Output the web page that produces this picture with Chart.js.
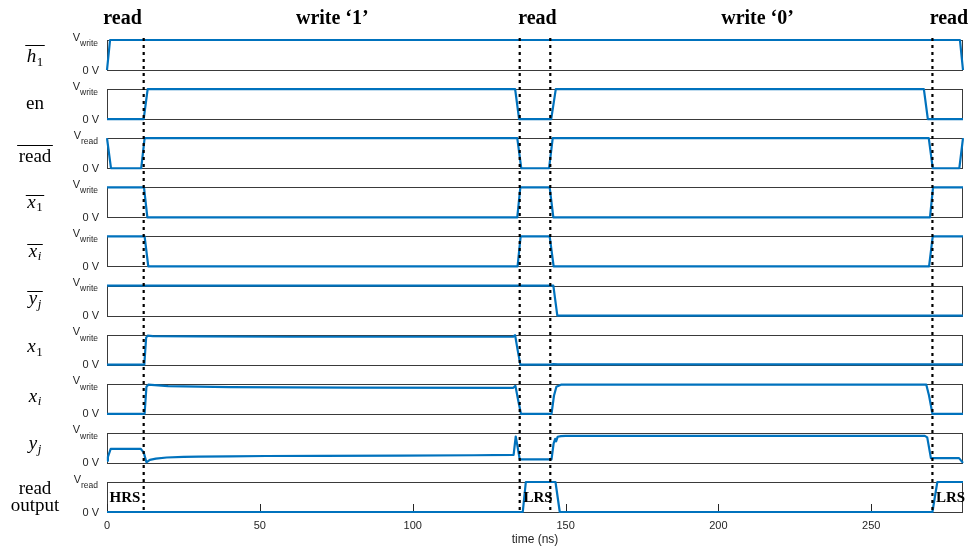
<!DOCTYPE html>
<html><head><meta charset="utf-8">
<script src="https://cdn.jsdelivr.net/npm/chart.js@4/dist/chart.umd.min.js"></script>
<style>html,body{margin:0;padding:0;background:#fff;}#wrap{position:relative;width:974px;height:553px;}</style>
</head><body><div id="wrap"><canvas id="c" width="974" height="553"></canvas></div>
<script>
// ---------- data (time in ns, level as fraction of the panel's top voltage) ----------
const T_MAX = 280;
const xTicks = [0, 50, 100, 150, 200, 250];
const phaseNames = ['read', 'write ‘1’', 'read', 'write ‘0’', 'read'];
const phaseCenters = [5.1, 73.7, 140.8, 212.8, 275.4];
const phaseBounds = [12, 135, 145, 270];
const stateText = ['HRS', 'LRS', 'LRS'];
const stateAt = [5.9, 141, 275.9];
const vTopNames = ['write', 'write', 'read', 'write', 'write', 'write', 'write', 'write', 'write', 'read'];

const tH1 = [0, 1, 279, 280];
const vH1 = [0, 1, 1, 0];
const tEn = [0, 12, 13.3, 133.5, 134.8, 145.3, 146.8, 267.2, 268.5, 280];
const vEn = [0, 0, 1, 1, 0, 0, 1, 1, 0, 0];
const tReadB = [0, 1.3, 11.2, 12.3, 134.2, 135.5, 144.6, 145.8, 268.8, 270.1, 278.8, 280];
const vReadB = [1, 0, 0, 1, 1, 0, 0, 1, 1, 0, 0, 1];
const tX1B = [0, 12.1, 13.2, 134.2, 135.2, 144.8, 146, 269.2, 270.2, 280];
const vX1B = [1, 1, 0, 0, 1, 1, 0, 0, 1, 1];
const tXiB = [0, 12.3, 13.5, 134.3, 135.3, 144.8, 146.1, 268.9, 270.1, 280];
const vXiB = [1, 1, 0, 0, 1, 1, 0, 0, 1, 1];
const tYjB = [0, 146, 147.3, 280];
const vYjB = [1, 1, 0, 0];
const tX1 = [0, 12.2, 12.8, 13.3, 15, 30, 60, 100, 132.8, 133.5, 134.3, 135.2, 145, 146, 147.5, 280];
const vX1 = [0, 0, 0.9, 0.97, 0.95, 0.94, 0.93, 0.93, 0.93, 0.98, 0.5, 0, 0, 0.02, 0.01, 0.01];
const tXi = [0, 12.3, 12.9, 13.5, 20, 40, 80, 132.8, 133.6, 134.4, 135.4, 145.4, 146.2, 147, 148.5, 268, 268.9, 270, 280];
const vXi = [0, 0, 0.9, 0.97, 0.92, 0.89, 0.87, 0.86, 0.93, 0.5, 0, 0, 0.6, 0.9, 0.97, 0.97, 0.6, 0, 0];
const tYj = [0, 0.3, 1.2, 11, 12, 12.9, 14, 16, 19.5, 25, 30, 40, 52, 70, 96, 120, 133, 133.7, 134.2, 135, 145.4, 146.1, 146.6, 146.9, 147.4, 148.5, 150, 267.5, 268.3, 269.5, 278.7, 280];
const vYj = [0.07, 0.2, 0.47, 0.47, 0.35, 0.02, 0.1, 0.14, 0.18, 0.2, 0.21, 0.22, 0.23, 0.235, 0.24, 0.255, 0.27, 0.88, 0.6, 0.12, 0.12, 0.65, 0.8, 0.72, 0.87, 0.89, 0.9, 0.9, 0.85, 0.16, 0.16, 0];
const tOut = [0, 136, 137, 146.7, 148.1, 270, 271.6, 280];
const vOut = [0, 0, 1, 1, 0, 0, 1, 1];

const panelLabels = [
  { over: true,  seg: [['h', 'it'], ['1', 'sub']] },
  { over: false, seg: [['en', 'rm']] },
  { over: true,  seg: [['read', 'rm']] },
  { over: true,  seg: [['x', 'it'], ['1', 'sub']] },
  { over: true,  seg: [['x', 'it'], ['i', 'subit']] },
  { over: true,  seg: [['y', 'it'], ['j', 'subit']] },
  { over: false, seg: [['x', 'it'], ['1', 'sub']] },
  { over: false, seg: [['x', 'it'], ['i', 'subit']] },
  { over: false, seg: [['y', 'it'], ['j', 'subit']] },
  { lines: ['read', 'output'] }
];

const signals = [
  [tH1, vH1], [tEn, vEn], [tReadB, vReadB], [tX1B, vX1B], [tXiB, vXiB],
  [tYjB, vYjB], [tX1, vX1], [tXi, vXi], [tYj, vYj], [tOut, vOut]
];

// ---------- styling ----------
const BLUE = '#0072BD';
const INK = '#262626';
const N = signals.length;
const PANEL_W = 30, GAP_W = 19.1;

function killPad(s) { s.paddingLeft = 0; s.paddingRight = 0; s.paddingTop = 0; s.paddingBottom = 0; }

const scales = {
  x: {
    type: 'linear', position: 'bottom', min: 0, max: T_MAX,
    afterBuildTicks: s => { s.ticks = xTicks.map(v => ({ value: v })); },
    ticks: { autoSkip: false, maxRotation: 0, padding: 7, color: INK, font: { family: 'Liberation Sans', size: 11 } },
    grid: { display: false, drawTicks: false }, border: { display: false },
    title: { display: true, text: 'time (ns)', color: INK, font: { family: 'Liberation Sans', size: 12 }, padding: { top: 0, bottom: 6 } },
    afterFit: s => { s.height = 41; killPad(s); }
  },
  xTop: {
    type: 'linear', position: 'top', min: 0, max: T_MAX,
    afterBuildTicks: s => { s.ticks = phaseCenters.map(v => ({ value: v })); },
    ticks: { autoSkip: false, maxRotation: 0, padding: 9, color: '#000',
      font: { family: 'Liberation Serif', size: 20, weight: 'bold' },
      callback: (v, i) => phaseNames[i] },
    grid: { display: false, drawTicks: false }, border: { display: false },
    afterFit: s => { s.height = 40; killPad(s); }
  }
};
const order = [];
for (let i = 0; i < N; i++) {
  order.push({ id: 'p' + i, w: PANEL_W });
  if (i < N - 1) order.push({ id: 'g' + i, w: GAP_W });
}
order.forEach((o, k) => {
  scales[o.id] = {
    type: 'linear', position: 'left', stack: 'panels', stackWeight: o.w,
    weight: order.length - k, min: 0, max: 1, display: true,
    ticks: { display: false }, grid: { display: false, drawTicks: false }, border: { display: false },
    afterFit: s => { s.width = 107; killPad(s); }
  };
});

const datasets = signals.map((sig, i) => ({
  data: sig[0].map((t, k) => ({ x: t, y: sig[1][k] })),
  yAxisID: 'p' + i, xAxisID: 'x',
  borderColor: BLUE, borderWidth: 2.2, pointRadius: 0, tension: 0, fill: false,
  borderJoinStyle: 'round', clip: false
}));

function fontFor(kind) {
  switch (kind) {
    case 'it': return 'italic 19px "Liberation Serif"';
    case 'sub': return '13px "Liberation Serif"';
    case 'subit': return 'italic 13px "Liberation Serif"';
    default: return '19px "Liberation Serif"';
  }
}
function drawLabel(ctx, spec, cx, cy) {
  ctx.fillStyle = '#000'; ctx.strokeStyle = '#000';
  ctx.textAlign = 'left'; ctx.textBaseline = 'alphabetic';
  if (spec.lines) {
    ctx.font = fontFor('rm');
    const lh = 17.5;
    const m0 = ctx.measureText(spec.lines[0]);
    const m1 = ctx.measureText(spec.lines[spec.lines.length - 1]);
    const top = -m0.actualBoundingBoxAscent;
    const bottom = lh * (spec.lines.length - 1) + m1.actualBoundingBoxDescent;
    const base = cy - (top + bottom) / 2 + 1;
    ctx.textAlign = 'center';
    spec.lines.forEach((l, k) => ctx.fillText(l, cx, base + k * lh));
    return;
  }
  let w = 0, asc = 0, desc = 0;
  const items = [];
  for (const [txt, kind] of spec.seg) {
    ctx.font = fontFor(kind);
    const m = ctx.measureText(txt);
    const dy = kind.startsWith('sub') ? 3.5 : 0;
    items.push({ txt, kind, x: w, dy });
    w += m.width + (kind === 'it' ? 0.5 : 0);
    asc = Math.max(asc, m.actualBoundingBoxAscent - dy);
    desc = Math.max(desc, m.actualBoundingBoxDescent + dy);
  }
  const overGap = 4;
  const top = spec.over ? -(asc + overGap + 1) : -asc;
  const base = cy - (top + desc) / 2;
  const x0 = cx - w / 2;
  for (const it of items) { ctx.font = fontFor(it.kind); ctx.fillText(it.txt, x0 + it.x, base + it.dy); }
  if (spec.over) {
    const oy = Math.round(base - asc - overGap) + 0.5;
    ctx.lineWidth = 1;
    ctx.beginPath(); ctx.moveTo(x0 - 1.5, oy); ctx.lineTo(x0 + w + 1.5, oy); ctx.stroke();
  }
}

const overlay = {
  id: 'overlay',
  beforeDatasetsDraw(chart) {
    const ctx = chart.ctx, ca = chart.chartArea;
    ctx.save();
    ctx.lineWidth = 1; ctx.strokeStyle = '#3a3a3a';
    for (let i = 0; i < N; i++) {
      const s = chart.scales['p' + i];
      const t = Math.round(s.top) + 0.5, b = Math.round(s.bottom) + 0.5;
      const l = Math.round(ca.left) + 0.5, r = Math.round(ca.right) - 0.5;
      ctx.strokeRect(l, t, r - l, b - t);
    }
    // inward x ticks on bottom panel
    const sx = chart.scales.x, pb = chart.scales['p' + (N - 1)];
    ctx.strokeStyle = INK;
    ctx.beginPath();
    for (const v of xTicks) {
      const px = Math.round(sx.getPixelForValue(v)) + 0.5;
      ctx.moveTo(px, pb.bottom); ctx.lineTo(px, pb.bottom - 8);
    }
    ctx.stroke();
    ctx.restore();
  },
  afterDatasetsDraw(chart) {
    const ctx = chart.ctx, ca = chart.chartArea, sx = chart.scales.x;
    ctx.save();
    // phase separators
    ctx.strokeStyle = '#000'; ctx.lineWidth = 2.2; ctx.setLineDash([3, 4]);
    for (const b of phaseBounds) {
      const px = sx.getPixelForValue(b);
      ctx.beginPath(); ctx.moveTo(px, ca.top - 2); ctx.lineTo(px, ca.bottom); ctx.stroke();
    }
    ctx.setLineDash([]);
    // resistance state labels in read-output panel
    const po = chart.scales['p' + (N - 1)];
    ctx.fillStyle = '#000'; ctx.font = 'bold 15px "Liberation Serif"';
    ctx.textAlign = 'center'; ctx.textBaseline = 'middle';
    stateText.forEach((t, k) => ctx.fillText(t, sx.getPixelForValue(stateAt[k]), (po.top + po.bottom) / 2 + 1));
    ctx.restore();
  },
  afterDraw(chart) {
    const ctx = chart.ctx, ca = chart.chartArea;
    ctx.save();
    for (let i = 0; i < N; i++) {
      const s = chart.scales['p' + i];
      const rx = ca.left - 9;
      // top voltage: V with subscript
      ctx.fillStyle = INK; ctx.textBaseline = 'middle'; ctx.textAlign = 'right';
      ctx.font = '8.5px "Liberation Sans"';
      const sw = ctx.measureText(vTopNames[i]).width;
      ctx.fillText(vTopNames[i], rx, s.top + 3.5);
      ctx.font = '11px "Liberation Sans"';
      ctx.fillText('V', rx - sw, s.top - 2.5);
      ctx.fillText('0 V', rx + 1, s.bottom + 0.5);
      drawLabel(ctx, panelLabels[i], 35, (s.top + s.bottom) / 2);
    }
    ctx.restore();
  }
};

new Chart(document.getElementById('c'), {
  type: 'line',
  data: { datasets },
  options: {
    responsive: false, animation: false, devicePixelRatio: 1,
    layout: { padding: { left: 0, right: 11, top: 0, bottom: 0 } },
    plugins: { legend: { display: false }, tooltip: { enabled: false } },
    scales
  },
  plugins: [overlay]
});
</script>
</body></html>
